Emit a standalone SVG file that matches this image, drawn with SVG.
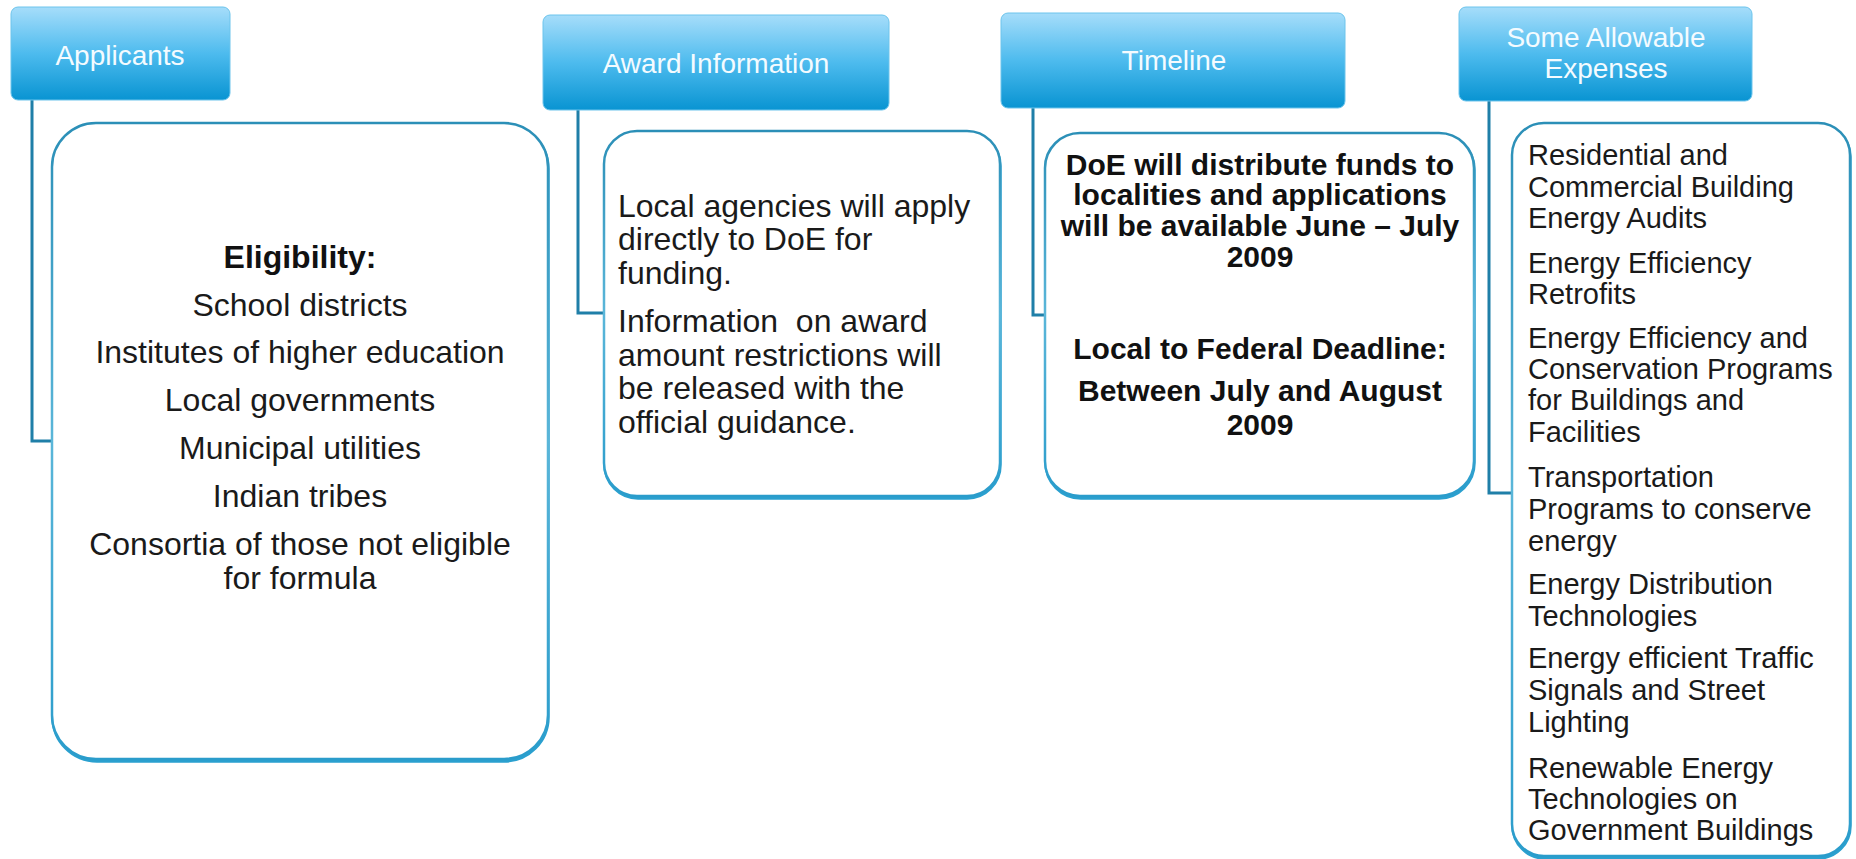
<svg xmlns="http://www.w3.org/2000/svg" width="1856" height="859" viewBox="0 0 1856 859">
<defs>
<linearGradient id="hdr" x1="0" y1="0" x2="0" y2="1">
<stop offset="0" stop-color="#a6ddfa"/>
<stop offset="0.5" stop-color="#4dbbee"/>
<stop offset="1" stop-color="#0994d2"/>
</linearGradient>
<linearGradient id="brd" x1="0" y1="0" x2="0" y2="1">
<stop offset="0" stop-color="#2b8fb7"/>
<stop offset="0.5" stop-color="#5ab6d9"/>
<stop offset="1" stop-color="#2a9ccb"/>
</linearGradient>
</defs>
<style>
.hdr{fill:url(#hdr);stroke:#6cc4ec;stroke-width:1}
.htxt{font-family:"Liberation Sans",Arial,sans-serif;font-size:28px;fill:#f4fbff;text-anchor:middle}
.box{fill:#ffffff;stroke:url(#brd);stroke-width:2.5}
.shadow{fill:none;stroke:#2aa0cf;stroke-width:3.5}
.t{font-family:"Liberation Sans",Arial,sans-serif;font-size:32px;fill:#1a1a1a}
.t4{font-family:"Liberation Sans",Arial,sans-serif;font-size:29px;fill:#1a1a1a}
.c{text-anchor:middle}
.b{font-family:"Liberation Sans",Arial,sans-serif;font-weight:bold;fill:#111111;text-anchor:middle}
.conn{fill:none;stroke:#1f7fa8;stroke-width:3}
</style>

<g id="connectors">
<polyline class="conn" points="32,100 32,441 53,441"/>
<polyline class="conn" points="578,110 578,313 604,313"/>
<polyline class="conn" points="1033,108 1033,315 1046,315"/>
<polyline class="conn" points="1489,101 1489,493 1513,493"/>
</g>

<g id="applicants">
<rect class="hdr" x="11" y="7" width="219" height="93" rx="7"/>
<text class="htxt" x="120" y="65">Applicants</text>
<rect class="shadow" x="53" y="125" width="495" height="636" rx="44"/>
<rect class="box" x="52" y="123" width="496" height="636" rx="44"/>
<text class="b" x="300" y="268" font-size="32">Eligibility:</text>
<text class="t c" x="300" y="316">School districts</text>
<text class="t c" x="300" y="363">Institutes of higher education</text>
<text class="t c" x="300" y="411">Local governments</text>
<text class="t c" x="300" y="459">Municipal utilities</text>
<text class="t c" x="300" y="507">Indian tribes</text>
<text class="t c" x="300" y="555">Consortia of those not eligible</text>
<text class="t c" x="300" y="589">for formula</text>
</g>

<g id="award-information">
<rect class="hdr" x="543" y="15" width="346" height="95" rx="7"/>
<text class="htxt" x="716" y="73">Award Information</text>
<rect class="shadow" x="605" y="133" width="395" height="365" rx="33"/>
<rect class="box" x="604" y="131" width="396" height="365" rx="33"/>
<text class="t" x="618" y="217">Local agencies will apply</text>
<text class="t" x="618" y="250">directly to DoE for</text>
<text class="t" x="618" y="284">funding.</text>
<text class="t" x="618" y="332" xml:space="preserve">Information  on award</text>
<text class="t" x="618" y="366">amount restrictions will</text>
<text class="t" x="618" y="399">be released with the</text>
<text class="t" x="618" y="433">official guidance.</text>
</g>

<g id="timeline">
<rect class="hdr" x="1001" y="13" width="344" height="95" rx="7"/>
<text class="htxt" x="1174" y="70">Timeline</text>
<rect class="shadow" x="1046" y="135" width="428" height="363" rx="35"/>
<rect class="box" x="1045" y="133" width="429" height="363" rx="35"/>
<text class="b" x="1260" y="175" font-size="30">DoE will distribute funds to</text>
<text class="b" x="1260" y="205" font-size="30">localities and applications</text>
<text class="b" x="1260" y="236" font-size="30">will be available June – July</text>
<text class="b" x="1260" y="267" font-size="30">2009</text>
<text class="b" x="1260" y="359" font-size="30">Local to Federal Deadline:</text>
<text class="b" x="1260" y="401" font-size="30">Between July and August</text>
<text class="b" x="1260" y="435" font-size="30">2009</text>
</g>

<g id="some-allowable-expenses">
<rect class="hdr" x="1459" y="7" width="293" height="94" rx="7"/>
<text class="htxt" x="1606" y="47">Some Allowable</text>
<text class="htxt" x="1606" y="78">Expenses</text>
<rect class="shadow" x="1513" y="125" width="337" height="733" rx="32"/>
<rect class="box" x="1512" y="123" width="338" height="733" rx="32"/>
<text class="t4" x="1528" y="165">Residential and</text>
<text class="t4" x="1528" y="197">Commercial Building</text>
<text class="t4" x="1528" y="228">Energy Audits</text>
<text class="t4" x="1528" y="273">Energy Efficiency</text>
<text class="t4" x="1528" y="304">Retrofits</text>
<text class="t4" x="1528" y="348">Energy Efficiency and</text>
<text class="t4" x="1528" y="379">Conservation Programs</text>
<text class="t4" x="1528" y="410">for Buildings and</text>
<text class="t4" x="1528" y="442">Facilities</text>
<text class="t4" x="1528" y="487">Transportation</text>
<text class="t4" x="1528" y="519">Programs to conserve</text>
<text class="t4" x="1528" y="551">energy</text>
<text class="t4" x="1528" y="594">Energy Distribution</text>
<text class="t4" x="1528" y="626">Technologies</text>
<text class="t4" x="1528" y="668">Energy efficient Traffic</text>
<text class="t4" x="1528" y="700">Signals and Street</text>
<text class="t4" x="1528" y="732">Lighting</text>
<text class="t4" x="1528" y="778">Renewable Energy</text>
<text class="t4" x="1528" y="809">Technologies on</text>
<text class="t4" x="1528" y="840">Government Buildings</text>
</g>
</svg>
